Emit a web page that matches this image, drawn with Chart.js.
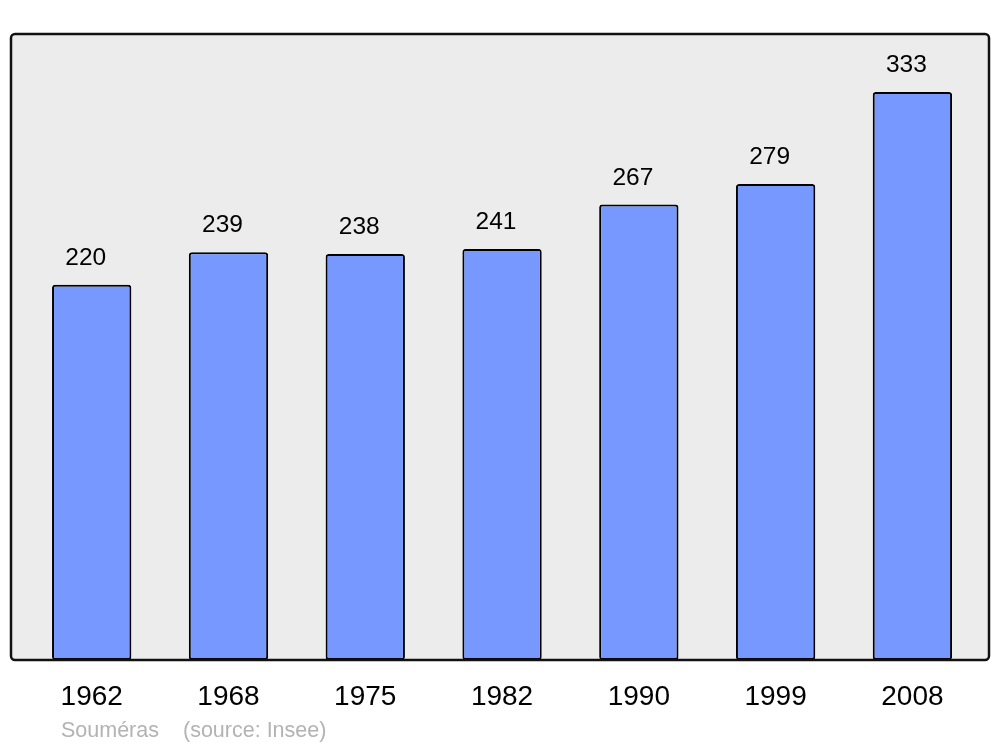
<!DOCTYPE html>
<html>
<head>
<meta charset="utf-8">
<title>Souméras population</title>
<script src="https://cdn.jsdelivr.net/npm/chart.js"></script>
<style>
body { margin:0; background:white; }
#wrap { width:1000px; height:747px; }
</style>
</head>
<body>
<div id="wrap"><canvas id="chart"></canvas></div>
<script>
// data
const years = ["1962","1968","1975","1982","1990","1999","2008"];
const population = [220, 239, 238, 241, 267, 279, 333];
const townName = "Souméras";
const sourceText = "(source: Insee)";

// frame + value labels + source line
const decor = {
    id:"decor",
    beforeDraw(c){
        const a = c.chartArea, ctx = c.ctx;
        ctx.save();
        ctx.fillStyle = "#ececec";
        ctx.beginPath();
        ctx.roundRect(a.left, a.top, a.right-a.left, a.bottom-a.top, 4);
        ctx.fill();
        ctx.restore();
    },
    afterDatasetsDraw(c){
        const a = c.chartArea, ctx = c.ctx;
        ctx.save();
        ctx.lineWidth = 2.5;
        ctx.strokeStyle = "#111";
        ctx.beginPath();
        ctx.roundRect(a.left, a.top, a.right-a.left, a.bottom-a.top, 4);
        ctx.stroke();

        // values above bars
        ctx.fillStyle = "#000";
        ctx.font = "24.5px 'Liberation Sans', Arial";
        ctx.textAlign = "center";
        ctx.textBaseline = "alphabetic";
        c.getDatasetMeta(0).data.forEach((bar,i)=>{
            ctx.fillText(String(population[i]), bar.x - 6, bar.y - 20);
        });

        // source line
        ctx.fillStyle = "#b3b3b3";
        ctx.font = "21.5px 'Liberation Sans', Arial";
        ctx.textAlign = "left";
        ctx.fillText(townName, 61, 737);
        ctx.fillText(sourceText, 183, 737);
        ctx.restore();
    }
};

new Chart(document.getElementById("chart"), {
    type:"bar",
    data:{
        datasets:[{
            data: population.map((v,i)=>({x:i, y:v})),
            backgroundColor:"#7799ff",
            borderColor:"#000",
            borderWidth:2,
            borderSkipped:false,
            borderRadius:3,
            barPercentage:0.58,
            categoryPercentage:1
        }]
    },
    options:{
        responsive:true,
        maintainAspectRatio:false,
        animation:false,
        layout:{ padding:{ left:11, right:11, top:34, bottom:0 } },
        plugins:{ legend:{ display:false }, tooltip:{ enabled:false } },
        scales:{
            x:{
                type:"linear",
                offset:false,
                min:-0.59,
                max:6.56,
                grid:{ display:false, offset:false },
                border:{ display:false },
                afterBuildTicks(s){ s.ticks = years.map((_,i)=>({value:i})); },
                afterFit(s){ s.height = 87; },
                ticks:{
                    padding:12,
                    color:"#000",
                    font:{ size:28, family:"'Liberation Sans', Arial" },
                    maxRotation:0,
                    callback:(v)=>years[v]
                }
            },
            y:{
                display:false,
                min:0,
                max:367
            }
        }
    },
    plugins:[decor]
});
</script>
</body>
</html>
